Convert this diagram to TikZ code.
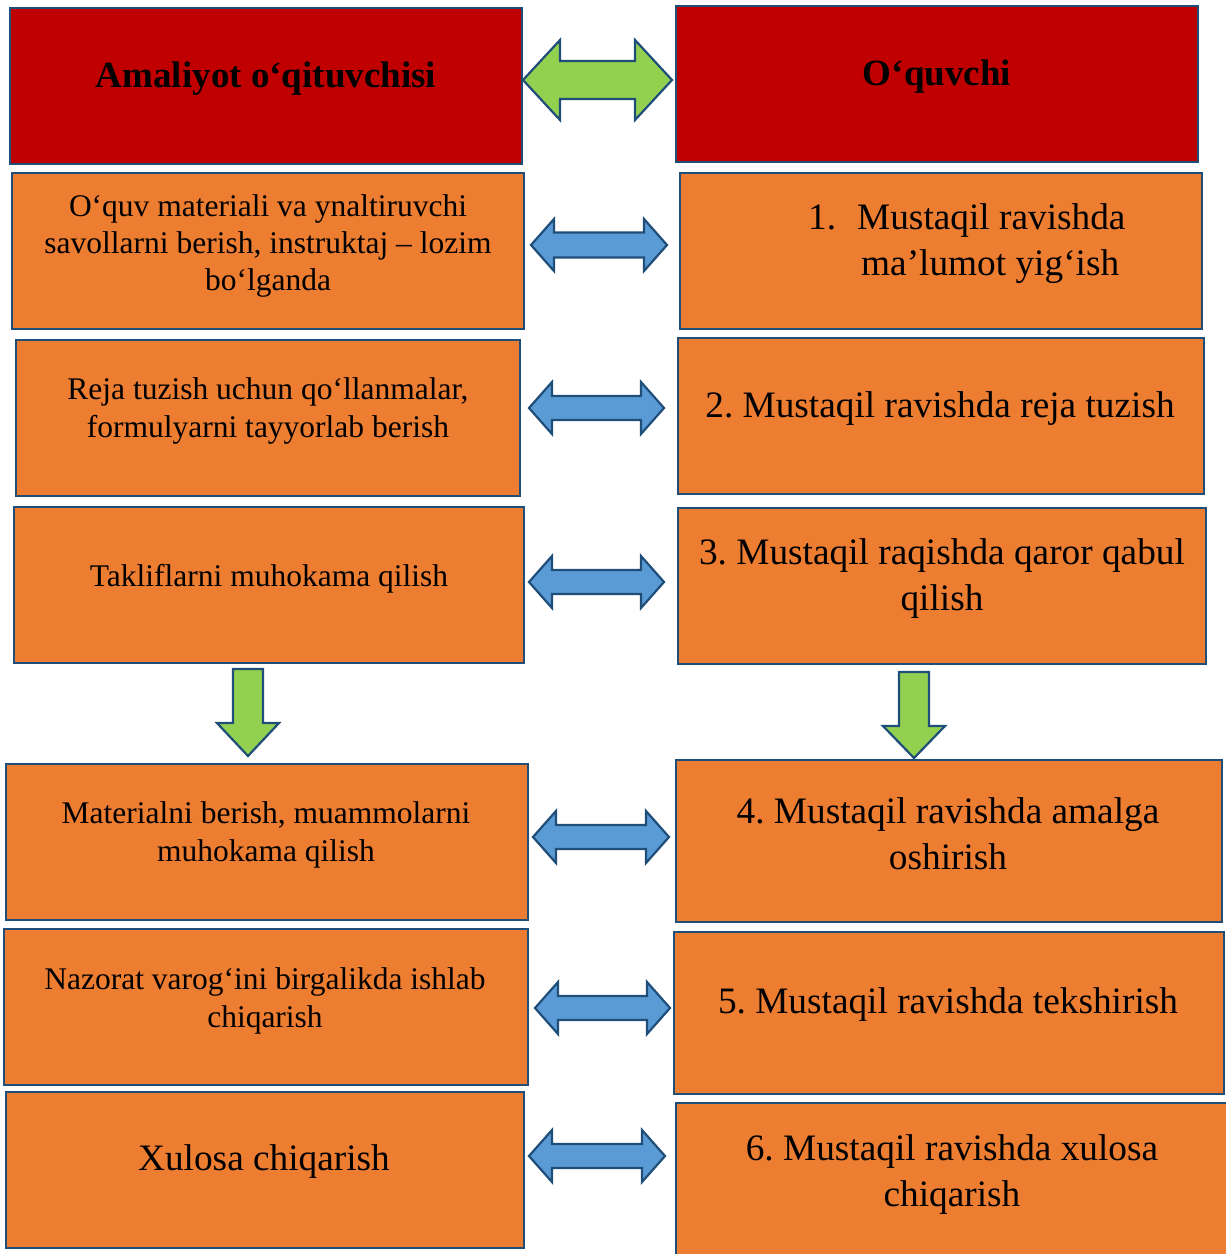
\documentclass[tikz,border=0pt]{standalone}
\usepackage{fontspec}
\setmainfont{Liberation Serif}
\frenchspacing
\definecolor{bord}{HTML}{1F4E79}
\definecolor{redf}{HTML}{C00000}
\definecolor{orangef}{HTML}{ED7D31}
\definecolor{greenf}{HTML}{92D050}
\definecolor{bluef}{HTML}{5B9BD5}
\newcommand\boxat[6]{\node[#6, minimum width={(#4-#2)*1pt}, minimum height={(#5-#3)*1pt}] (#1) at ({(#2+#4)/2},{(#3+#5)/2}) {};}
% double block arrow: xl xr yc halfhead halfshaft headlen style
\newcommand\hdbl[7]{\draw[#7] (#1,#3) -- (#1+#6,#3-#4) -- (#1+#6,#3-#5) -- (#2-#6,#3-#5) -- (#2-#6,#3-#4) -- (#2,#3) -- (#2-#6,#3+#4) -- (#2-#6,#3+#5) -- (#1+#6,#3+#5) -- (#1+#6,#3+#4) -- cycle;}
% down block arrow: xc ytop ytip halfhead halfshaft headlen style
\newcommand\vdown[7]{\draw[#7] (#1-#5,#2) -- (#1+#5,#2) -- (#1+#5,#3-#6) -- (#1+#4,#3-#6) -- (#1,#3) -- (#1-#4,#3-#6) -- (#1-#5,#3-#6) -- (#1-#5,#2) -- cycle;}
\begin{document}
\begin{tikzpicture}[x=1pt,y=-1pt,
  hbox/.style={draw=bord, line width=2.5pt, fill=redf, rectangle, inner sep=0pt},
  obox/.style={draw=bord, line width=2.5pt, fill=orangef, rectangle, inner sep=0pt},
  garrow/.style={draw=bord, line width=2.2pt, fill=greenf, line join=miter},
  barrow/.style={draw=bord, line width=2.2pt, fill=bluef, line join=miter},
  ltxt/.style={align=center, inner sep=0pt, font=\fontsize{31.5}{37.3}\selectfont},
  rtxt/.style={align=center, inner sep=0pt, font=\fontsize{37.3}{46}\selectfont},
  htxt/.style={align=center, inner sep=0pt, font=\fontsize{37}{44}\selectfont\bfseries}]
\useasboundingbox (0,0) rectangle (1226,1254);
\begin{scope}
\clip (0,0) rectangle (1226,1254);
% headers
\boxat{hl}{10}{8}{522}{164}{hbox}
\boxat{hr}{676}{6}{1198}{162}{hbox}
% left column
\boxat{l1}{12}{173}{524}{329}{obox}
\boxat{l2}{16}{340}{520}{496}{obox}
\boxat{l3}{14}{507}{524}{663}{obox}
\boxat{l4}{6}{764}{528}{920}{obox}
\boxat{l5}{4}{929}{528}{1085}{obox}
\boxat{l6}{6}{1092}{524}{1248}{obox}
% right column
\boxat{r1}{680}{173}{1202}{329}{obox}
\boxat{r2}{678}{338}{1204}{494}{obox}
\boxat{r3}{678}{508}{1206}{664}{obox}
\boxat{r4}{676}{760}{1222}{922}{obox}
\boxat{r5}{674}{932}{1224}{1094}{obox}
\boxat{r6}{676}{1103}{1232}{1262}{obox}
\end{scope}
% texts
\node[htxt] (thl) at (266,79) {Amaliyot o‘qituvchisi};
\node[htxt] (thr) at (937,77) {O‘quvchi};
\node[ltxt] (tl1) at (268,246) {O‘quv materiali va ynaltiruvchi\\savollarni berish, instruktaj – lozim\\bo‘lganda};
\node[ltxt] (tl2) at (268,411) {Reja tuzish uchun qo‘llanmalar,\\formulyarni tayyorlab berish};
\node[ltxt] (tl3) at (269,579) {Takliflarni muhokama qilish};
\node[ltxt] (tl4) at (266,835) {Materialni berish, muammolarni\\muhokama qilish};
\node[ltxt] (tl5) at (265,1001) {Nazorat varog‘ini birgalikda ishlab\\chiqarish};
\node[rtxt] (tl6) at (264,1162) {Xulosa chiqarish};
\node[rtxt, align=left, anchor=west] (tr1) at (808,244) {\makebox[49pt][l]{1.}Mustaqil ravishda\\\hspace*{53pt}ma’lumot yig‘ish};
\node[rtxt] (tr2) at (940,409) {2. Mustaqil ravishda reja tuzish};
\node[rtxt] (tr3) at (942,579) {3. Mustaqil raqishda qaror qabul\\qilish};
\node[rtxt] (tr4) at (948,834) {4. Mustaqil ravishda amalga\\oshirish};
\node[rtxt] (tr5) at (948,1005) {5. Mustaqil ravishda tekshirish};
\node[rtxt] (tr6) at (952,1175) {6. Mustaqil ravishda xulosa\\chiqarish};
% arrows
\hdbl{523}{672}{80}{40}{19}{37}{garrow}
\hdbl{531}{667}{245}{26}{12.5}{23}{barrow}
\hdbl{529}{664}{408}{26}{12}{23}{barrow}
\hdbl{529}{664}{582}{26}{12}{23}{barrow}
\hdbl{533}{669}{837}{26}{12}{23}{barrow}
\hdbl{535}{670}{1008}{26}{12}{23}{barrow}
\hdbl{529}{665}{1156}{26}{12}{23}{barrow}
\vdown{248}{669}{756}{31}{15}{33}{garrow}
\vdown{914}{672}{758}{31}{15}{32}{garrow}
\end{tikzpicture}
\end{document}
